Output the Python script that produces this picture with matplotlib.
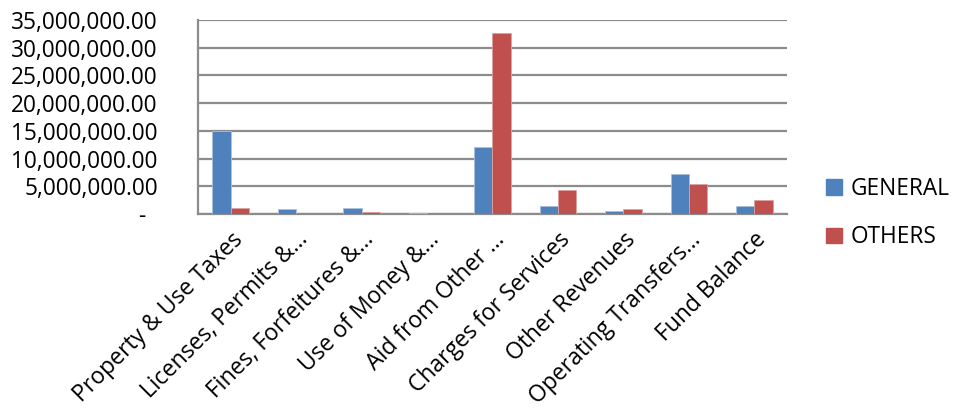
import numpy as np
import matplotlib.pyplot as plt
from matplotlib.patches import Patch
from matplotlib.ticker import FuncFormatter

categories = [
    'Property & Use Taxes',
    'Licenses, Permits &…',
    'Fines, Forfeitures &…',
    'Use of Money &…',
    'Aid from Other …',
    'Charges for Services',
    'Other Revenues',
    'Operating Transfers…',
    'Fund Balance',
]
general = [15000000, 900000, 1100000, 200000, 12150000, 1450000, 600000, 7200000, 1450000]
others = [1000000, 30000, 350000, 30000, 32600000, 4300000, 950000, 5500000, 2500000]

blue = '#4F81BD'
red = '#C0504D'
grid_gray = '#8C8C8C'

plt.rcParams['font.family'] = ['Open Sans', 'DejaVu Sans']

fig = plt.figure(figsize=(9.54, 4.12), dpi=100)
ax = fig.add_axes([198 / 954, 1 - 214 / 412, 589 / 954, 194 / 412])

x = np.arange(len(categories))
w = 0.28
ax.bar(x - w / 2, general, width=w, color=blue, edgecolor='#A9C0DE', linewidth=0.6, zorder=3)
ax.bar(x + w / 2, others, width=w, color=red, edgecolor='#DDA09E', linewidth=0.6, zorder=3)

ax.set_xlim(-0.5, len(categories) - 0.5)
ax.set_ylim(0, 35000000)
ax.set_yticks(np.arange(0, 35000001, 5000000))


def money(v, pos):
    if v == 0:
        return '-  '
    return f'{v:,.2f}'


ax.yaxis.set_major_formatter(FuncFormatter(money))
ax.grid(axis='y', color=grid_gray, linewidth=1.6, zorder=0)
ax.set_axisbelow(True)

for side in ['top', 'right']:
    ax.spines[side].set_visible(False)
for side in ['left', 'bottom']:
    ax.spines[side].set_color(grid_gray)
    ax.spines[side].set_linewidth(1.6)

ax.tick_params(axis='y', length=0, pad=29, labelsize=16.3)
ax.tick_params(axis='x', length=0, pad=10, labelsize=16.5)
ax.set_xticks(x)
ax.set_xticklabels(categories, rotation=45, ha='right', va='top', rotation_mode='anchor')

handles = [Patch(color=blue, label='GENERAL'), Patch(color=red, label='OTHERS')]
fig.legend(handles=handles, loc='center left', bbox_to_anchor=(0.866, 0.483),
           frameon=False, fontsize=16.3, handlelength=0.7, handleheight=0.7,
           handletextpad=0.4, labelspacing=1.1, borderpad=0, borderaxespad=0)

fig.savefig('out.png', dpi=100)
